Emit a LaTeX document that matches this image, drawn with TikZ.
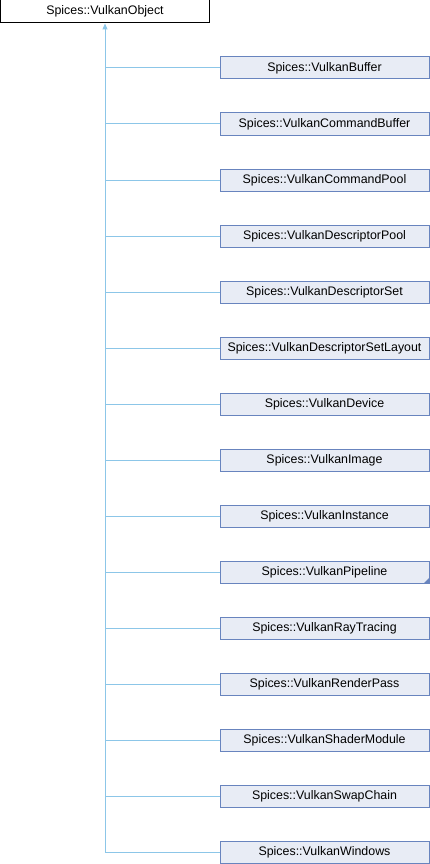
\documentclass[tikz,border=0pt]{standalone}
\usepackage{fontspec}
\setmainfont{Liberation Sans}
\usetikzlibrary{arrows.meta}
\definecolor{nodefill}{RGB}{232,236,245}
\definecolor{nodeline}{RGB}{104,132,190}
\definecolor{edgecol}{RGB}{140,198,232}
\tikzset{
  basebox/.style={draw=black, fill=white, line width=1pt, minimum width=209pt, minimum height=23pt, inner sep=0pt, font=\fontsize{12.4}{14}\selectfont},
  childbox/.style={draw=nodeline, fill=nodefill, line width=1pt, minimum width=209pt, minimum height=22pt, inner sep=0pt, font=\fontsize{12.4}{14}\selectfont},
  edge/.style={draw=edgecol, line width=1pt},
  moretri/.style={fill=nodeline}
}
\begin{document}
\begin{tikzpicture}[x=1pt,y=-1pt]
\useasboundingbox (0,0) rectangle (430,864);
\node[basebox] (top) at (105,11.5) {Spices::VulkanObject};
\coordinate (trunk) at (105,32);
\foreach \n/\t [count=\k from 0] in {
  c1/Spices::VulkanBuffer,
  c2/Spices::VulkanCommandBuffer,
  c3/Spices::VulkanCommandPool,
  c4/Spices::VulkanDescriptorPool,
  c5/Spices::VulkanDescriptorSet,
  c6/Spices::VulkanDescriptorSetLayout,
  c7/Spices::VulkanDevice,
  c8/Spices::VulkanImage,
  c9/Spices::VulkanInstance,
  c10/Spices::VulkanPipeline,
  c11/Spices::VulkanRayTracing,
  c12/Spices::VulkanRenderPass,
  c13/Spices::VulkanShaderModule,
  c14/Spices::VulkanSwapChain,
  c15/Spices::VulkanWindows}
{
  \node[childbox] (\n) at (324.5,68+56*\k) {\t};
  \draw[edge] (\n.west) -| (trunk);
}
\draw[edge,-{Triangle[width=5pt,length=6pt]}] (trunk) -- (top.south);
\fill[moretri] (c10.south east) -- ([xshift=-6pt]c10.south east) -- ([yshift=6pt]c10.south east) -- cycle;
\end{tikzpicture}
\end{document}
